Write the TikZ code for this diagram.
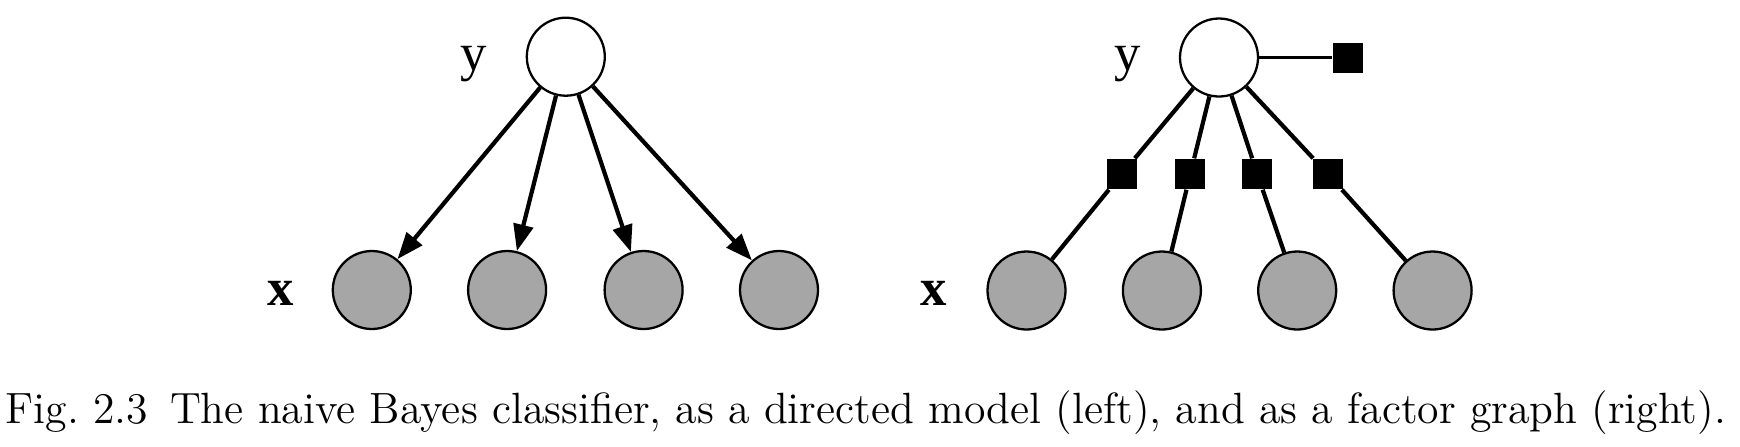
\documentclass[tikz,border=0pt]{standalone}
\usepackage{fontspec}
\newfontfamily\labelfont{Liberation Serif}
\usepackage{tikz}
\usetikzlibrary{arrows.meta}
\definecolor{obsgray}{RGB}{166,166,166}

\begin{document}
\begin{tikzpicture}[
    varnode/.style={circle, draw, line width=0.65pt, inner sep=0pt, minimum size=0.78cm},
    hidnode/.style={varnode, fill=white},
    obsnode/.style={varnode, fill=obsgray},
    factornode/.style={rectangle, fill=black, inner sep=0pt, minimum size=0.3cm},
    varlabel/.style={anchor=base, font=\labelfont\fontsize{15}{18}\selectfont},
    link/.style={line width=1.2pt},
    dirlink/.style={link, -{Triangle[length=7.6pt,width=5.6pt]}}
]
    % Frame
    \useasboundingbox (0,0) rectangle (17.4,4.46);

    % Directed model: class node
    \node[hidnode] (yl) at (5.658,3.893) {};
    \node[varlabel] (ylab) at (4.733,3.76) {y};

    % Directed model: observed features
    \node[obsnode] (xl1) at (3.718,1.56) {};
    \node[obsnode] (xl2) at (5.071,1.56) {};
    \node[obsnode] (xl3) at (6.436,1.56) {};
    \node[obsnode] (xl4) at (7.790,1.56) {};
    \node[varlabel] (xllab) at (2.808,1.41) {\bfseries x};

    % Directed model: arrows
    \draw[dirlink] (yl) -- (xl1);
    \draw[dirlink] (yl) -- (xl2);
    \draw[dirlink] (yl) -- (xl3);
    \draw[dirlink] (yl) -- (xl4);

    % Factor graph: class node and prior factor
    \node[hidnode] (yr) at (12.19,3.885) {};
    \node[varlabel] (yrlab) at (11.277,3.76) {y};
    \node[factornode] (fp) at (13.477,3.885) {};
    \draw[line width=0.7pt] (yr) -- (fp);

    % Factor graph: feature factors
    \node[factornode] (f1) at (11.217,2.72) {};
    \node[factornode] (f2) at (11.903,2.72) {};
    \node[factornode] (f3) at (12.573,2.72) {};
    \node[factornode] (f4) at (13.278,2.72) {};

    % Factor graph: observed features
    \node[obsnode] (xr1) at (10.265,1.555) {};
    \node[obsnode] (xr2) at (11.619,1.555) {};
    \node[obsnode] (xr3) at (12.972,1.555) {};
    \node[obsnode] (xr4) at (14.326,1.555) {};
    \node[varlabel] (xrlab) at (9.34,1.41) {\bfseries x};

    % Factor graph: links
    \draw[link] (yr) -- (f1) (f1) -- (xr1);
    \draw[link] (yr) -- (f2) (f2) -- (xr2);
    \draw[link] (yr) -- (f3) (f3) -- (xr3);
    \draw[link] (yr) -- (f4) (f4) -- (xr4);

    % Caption
    \node[anchor=base, font=\fontsize{12.45}{15}\selectfont] (caption) at (8.66,0.227)
        {Fig.~2.3\enspace The naive Bayes classifier, as a directed model (left), and as a factor graph (right).};
\end{tikzpicture}
\end{document}
